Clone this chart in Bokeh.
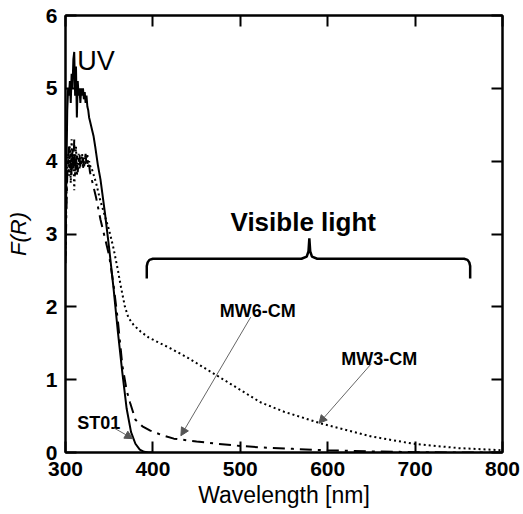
from bokeh.plotting import figure
from bokeh.models import (Range1d, LinearAxis, FixedTicker, Label, Arrow, NormalHead,
                          CustomJSTickFormatter)
from bokeh.embed import file_html
from bokeh.resources import INLINE

FONT = "Liberation Sans"

# ---------------- data ----------------
x_ticks = [300, 400, 500, 600, 700, 800]
y_ticks = [0, 1, 2, 3, 4, 5, 6]

st01_wl = [300, 301, 302, 303, 304, 305, 306, 307, 308, 309, 310, 311, 312, 313, 314, 315,
           316, 317, 318, 319, 320, 321, 322, 323, 324, 325, 326, 327, 328, 329, 330, 332,
           334, 337, 340, 345, 350, 355, 360, 365, 370, 375, 380, 385, 390, 395, 400]
st01_f = [2.7, 3.8, 4.7, 5.0, 4.9, 5.1, 4.8, 5.2, 5.0, 5.4, 5.5, 4.9, 5.3, 4.6, 5.1, 4.9,
          5.0, 4.8, 5.0, 4.9, 5.0, 4.85, 4.95, 4.8, 4.9, 4.75, 4.7, 4.6, 4.55, 4.5, 4.45, 4.35,
          4.2, 3.95, 3.75, 3.3, 2.8, 2.25, 1.65, 1.1, 0.6, 0.28, 0.12, 0.04, 0.01, 0.0, 0.0]

mw6_wl = [300, 301, 302, 303, 304, 305, 306, 307, 308, 309, 310, 311, 312, 313, 314, 315,
          316, 317, 318, 319, 320, 321, 322, 323, 324, 325, 326, 327, 328, 329, 330, 335,
          340, 345, 350, 355, 360, 365, 370, 374, 380, 388, 397, 410, 424, 450, 474, 500,
          523, 560, 600, 650, 700, 750, 800]
mw6_f = [2.6, 3.3, 3.8, 4.0, 4.2, 3.9, 4.1, 3.8, 4.2, 3.9, 4.3, 3.8, 4.0, 4.1, 3.85, 4.0,
         4.1, 3.9, 4.0, 3.95, 4.05, 3.9, 4.0, 4.1, 3.95, 4.0, 3.9, 3.95, 3.85, 3.8, 3.75, 3.5,
         3.2, 2.95, 2.7, 2.3, 1.8, 1.2, 0.85, 0.68, 0.45, 0.36, 0.30, 0.24, 0.19, 0.15, 0.12, 0.09,
         0.07, 0.05, 0.03, 0.015, 0.005, 0.0, 0.0]

mw3_wl = [300, 301, 302, 303, 304, 305, 306, 307, 308, 309, 310, 311, 312, 313, 314, 315,
          316, 317, 318, 319, 320, 321, 322, 323, 324, 325, 326, 327, 328, 329, 330, 335,
          340, 345, 350, 355, 360, 363, 368, 372, 378, 386, 395, 405, 420, 440, 470, 500,
          523, 550, 592, 650, 698, 750, 800]
mw3_f = [2.8, 3.5, 3.9, 4.1, 3.8, 4.2, 3.7, 4.3, 3.9, 4.1, 3.6, 4.0, 4.2, 3.8, 4.0, 4.1,
         3.9, 4.05, 3.95, 4.1, 3.9, 4.0, 4.05, 3.95, 4.0, 4.1, 3.9, 4.0, 3.95, 3.9, 3.9, 3.7,
         3.45, 3.25, 3.05, 2.8, 2.5, 2.3, 2.0, 1.85, 1.75, 1.66, 1.58, 1.52, 1.43, 1.3, 1.08, 0.86,
         0.69, 0.56, 0.40, 0.22, 0.12, 0.06, 0.03]

# brace marking the visible range
brace_x = [393, 393, 394, 396, 400, 570, 576, 578, 579, 580, 582, 588, 756, 760, 762, 763, 763]
brace_y = [2.39, 2.56, 2.61, 2.645, 2.66, 2.66, 2.69, 2.76, 2.94, 2.76, 2.69, 2.66, 2.66, 2.645, 2.61, 2.56, 2.39]

# ---------------- figure ----------------
p = figure(width=520, height=514, output_backend="svg", toolbar_location=None,
           x_range=Range1d(300, 800), y_range=Range1d(0, 6),
           min_border_left=65, min_border_right=18, min_border_top=15, min_border_bottom=62)
p.background_fill_color = "white"
p.border_fill_color = "white"
p.xgrid.visible = False
p.ygrid.visible = False
p.outline_line_color = "black"
p.outline_line_width = 2

def style_axis(ax, labels=True):
    ax.axis_line_width = 2
    ax.axis_line_color = "black"
    ax.major_tick_in = 11
    ax.major_tick_out = 0
    ax.major_tick_line_width = 2
    ax.major_tick_line_color = "black"
    ax.minor_tick_line_color = None
    ax.major_label_text_font = FONT
    ax.major_label_text_font_style = "bold"
    ax.major_label_text_color = "black"
    if labels:
        ax.major_label_text_font_size = "21px"
    else:
        ax.formatter = CustomJSTickFormatter(code="return ''")
        ax.major_label_text_font_size = "2px"
        ax.major_label_standoff = 0

p.xaxis.ticker = FixedTicker(ticks=x_ticks)
p.yaxis.ticker = FixedTicker(ticks=y_ticks)
style_axis(p.xaxis[0])
style_axis(p.yaxis[0])
p.xaxis.major_label_standoff = 9
p.yaxis.major_label_standoff = 8

p.xaxis.axis_label = "Wavelength [nm]"
p.yaxis.axis_label = "F(R)"
for ax in (p.xaxis[0], p.yaxis[0]):
    ax.axis_label_text_font = FONT
    ax.axis_label_text_color = "black"
p.xaxis.axis_label_text_font_size = "23px"
p.yaxis.axis_label_text_font_size = "22px"
p.xaxis.axis_label_text_font_style = "normal"
p.yaxis.axis_label_text_font_style = "italic"
p.xaxis.axis_label_standoff = 3
p.yaxis.axis_label_standoff = 12

top = LinearAxis(ticker=FixedTicker(ticks=x_ticks))
style_axis(top, labels=False)
p.add_layout(top, "above")
right = LinearAxis(ticker=FixedTicker(ticks=y_ticks))
style_axis(right, labels=False)
p.add_layout(right, "right")

# ---------------- curves ----------------
p.line(mw3_wl, mw3_f, line_color="black", line_width=2, line_dash="2 3")
p.line(mw6_wl, mw6_f, line_color="black", line_width=2, line_dash="12 6 3 6")
p.line(st01_wl, st01_f, line_color="black", line_width=2)
p.line(brace_x, brace_y, line_color="black", line_width=2.5)

# ---------------- annotations ----------------
def lab(x, y, t, size, style="bold", align="center"):
    p.add_layout(Label(x=x, y=y, text=t, text_font=FONT, text_font_size=size,
                       text_font_style=style, text_align=align, text_baseline="alphabetic",
                       text_color="black"))

lab(313.5, 5.38, "UV", "27px", style="normal", align="left")
lab(572, 3.17, "Visible light", "26px")
lab(520, 1.94, "MW6-CM", "18px")
lab(659, 1.29, "MW3-CM", "18px")
lab(338, 0.41, "ST01", "18px")

def arrow(x0, y0, x1, y1):
    p.add_layout(Arrow(end=NormalHead(size=8, fill_color="#555555", line_color="#555555"),
                       x_start=x0, y_start=y0, x_end=x1, y_end=y1,
                       line_color="#666666", line_width=1))

arrow(512, 1.86, 432, 0.23)
arrow(650, 1.22, 590, 0.40)
arrow(355, 0.34, 377, 0.19)

open("out.html", "w").write(file_html(p, INLINE))
